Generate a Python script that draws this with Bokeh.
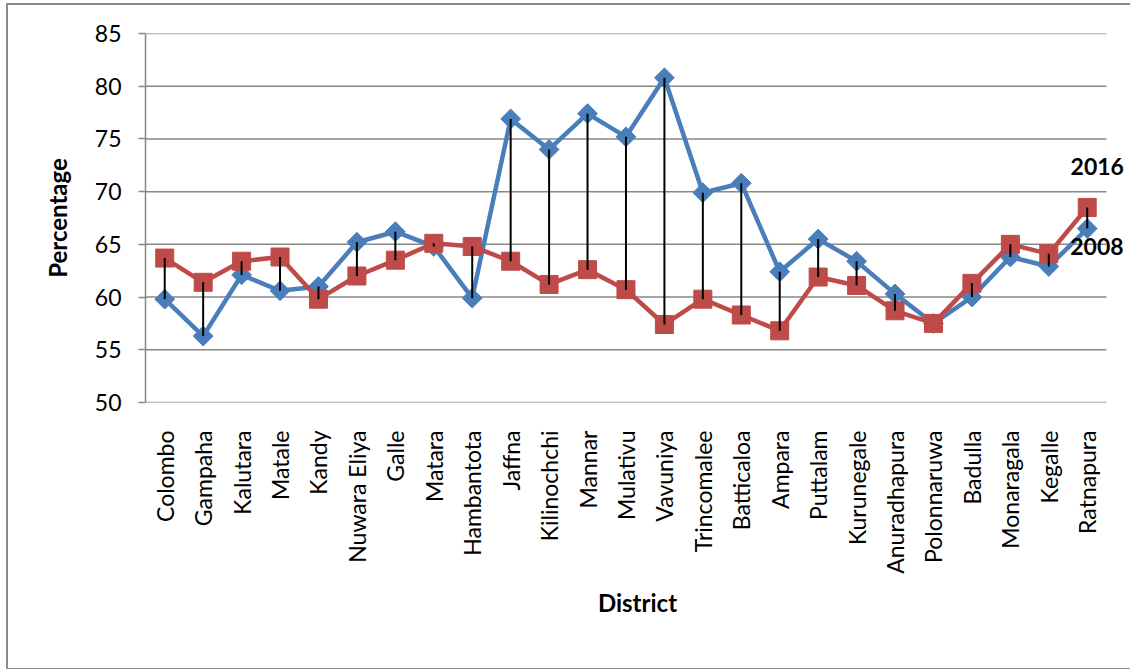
import math
from bokeh.plotting import figure
from bokeh.models import ColumnDataSource, Range1d, Label, FixedTicker
from bokeh.embed import file_html
from bokeh.resources import INLINE

districts = ["Colombo", "Gampaha", "Kalutara", "Matale", "Kandy", "Nuwara Eliya",
             "Galle", "Matara", "Hambantota", "Jaffna", "Kilinochchi", "Mannar",
             "Mulativu", "Vavuniya", "Trincomalee", "Batticaloa", "Ampara",
             "Puttalam", "Kurunegale", "Anuradhapura", "Polonnaruwa", "Badulla",
             "Monaragala", "Kegalle", "Ratnapura"]
values_2008 = [59.8, 56.3, 62.1, 60.6, 61.0, 65.2, 66.2, 64.8, 59.9, 76.9, 74.0,
               77.4, 75.2, 80.8, 69.9, 70.8, 62.4, 65.5, 63.4, 60.3, 57.5, 60.0,
               63.8, 62.9, 66.5]
values_2016 = [63.7, 61.4, 63.4, 63.8, 59.8, 62.0, 63.5, 65.1, 64.8, 63.4, 61.2,
               62.6, 60.7, 57.4, 59.8, 58.3, 56.8, 61.9, 61.1, 58.7, 57.5, 61.3,
               65.0, 64.1, 68.5]
y_ticks = [50, 55, 60, 65, 70, 75, 80, 85]
series_names = ["2008", "2016"]

BLUE = "#4A7EBB"
RED = "#BE4B48"
GRID = "#878787"
FONT = "Lato"

n = len(districts)
xpos = [i + 0.5 for i in range(n)]  # category centres on a numeric scale
src = ColumnDataSource(dict(x=xpos, d=districts, v08=values_2008, v16=values_2016))

p = figure(width=1124, height=667, x_range=Range1d(0, 25.6),
           y_range=Range1d(50, 85), output_backend="svg", toolbar_location=None,
           min_border_left=137, min_border_right=3, min_border_top=28,
           min_border_bottom=270)
p.styles = {"margin-left": "6px", "margin-top": "3px",
            "border-left": "2px solid #8a8a8a", "border-top": "2px solid #8a8a8a",
            "border-bottom": "2px solid #8a8a8a"}
p.outline_line_color = None
p.background_fill_color = "white"
p.border_fill_color = "white"

# grid (limited to the category span)
p.xgrid.grid_line_color = None
p.ygrid.grid_line_color = None
gsrc = ColumnDataSource(dict(x0=[0] * len(y_ticks), x1=[n] * len(y_ticks),
                             y=y_ticks))
p.segment(x0="x0", y0="y", x1="x1", y1="y", source=gsrc, line_color=GRID,
          line_width=1.5)

# y axis
p.yaxis.ticker = y_ticks
p.yaxis.axis_line_color = GRID
p.yaxis.axis_line_width = 1.5
p.yaxis.major_tick_line_color = GRID
p.yaxis.major_tick_line_width = 1.5
p.yaxis.major_tick_out = 7
p.yaxis.major_tick_in = 0
p.yaxis.minor_tick_line_color = None
p.yaxis.major_label_text_font = FONT
p.yaxis.major_label_text_font_size = "23px"
p.yaxis.major_label_text_color = "black"
p.yaxis.major_label_standoff = 17
p.yaxis.axis_label = "Percentage"
p.yaxis.axis_label_text_font = FONT
p.yaxis.axis_label_text_font_style = "bold"
p.yaxis.axis_label_text_font_size = "24px"
p.yaxis.axis_label_text_color = "black"
p.yaxis.axis_label_standoff = 20

# x axis
p.xaxis.ticker = FixedTicker(ticks=xpos)
p.xaxis.major_label_overrides = {x: d for x, d in zip(xpos, districts)}
p.xaxis.axis_line_color = None
p.xaxis.major_tick_line_color = None
p.xaxis.minor_tick_line_color = None
p.xaxis.major_label_orientation = math.pi / 2
p.xaxis.major_label_text_font = FONT
p.xaxis.major_label_text_font_size = "23px"
p.xaxis.major_label_text_color = "black"
p.xaxis.major_label_standoff = 22
p.xaxis.axis_label = "District"
p.xaxis.axis_label_text_font = FONT
p.xaxis.axis_label_text_font_style = "bold"
p.xaxis.axis_label_text_font_size = "24px"
p.xaxis.axis_label_text_color = "black"
p.xaxis.axis_label_standoff = 11

# series
p.line("x", "v08", source=src, line_color=BLUE, line_width=4.5)
p.scatter("x", "v08", source=src, marker="square", angle=math.pi / 4, size=14,
          fill_color=BLUE, line_color=BLUE)
p.line("x", "v16", source=src, line_color=RED, line_width=4.5)
p.scatter("x", "v16", source=src, marker="square", size=18,
          fill_color=RED, line_color=RED)
# high-low lines
p.segment(x0="x", y0="v08", x1="x", y1="v16", source=src, line_color="black",
          line_width=2)

# series labels at last point
p.add_layout(Label(x=xpos[-1], y=values_2016[-1], text=series_names[1],
                   x_offset=10, y_offset=41, text_align="center",
                   text_baseline="middle", text_font=FONT,
                   text_font_style="bold", text_font_size="23px",
                   text_color="black"))
p.add_layout(Label(x=xpos[-1], y=values_2008[-1], text=series_names[0],
                   x_offset=-17, y_offset=-18, text_align="left",
                   text_baseline="middle", text_font=FONT,
                   text_font_style="bold", text_font_size="23px",
                   text_color="black"))

open("out.html", "w").write(file_html(p, INLINE))
